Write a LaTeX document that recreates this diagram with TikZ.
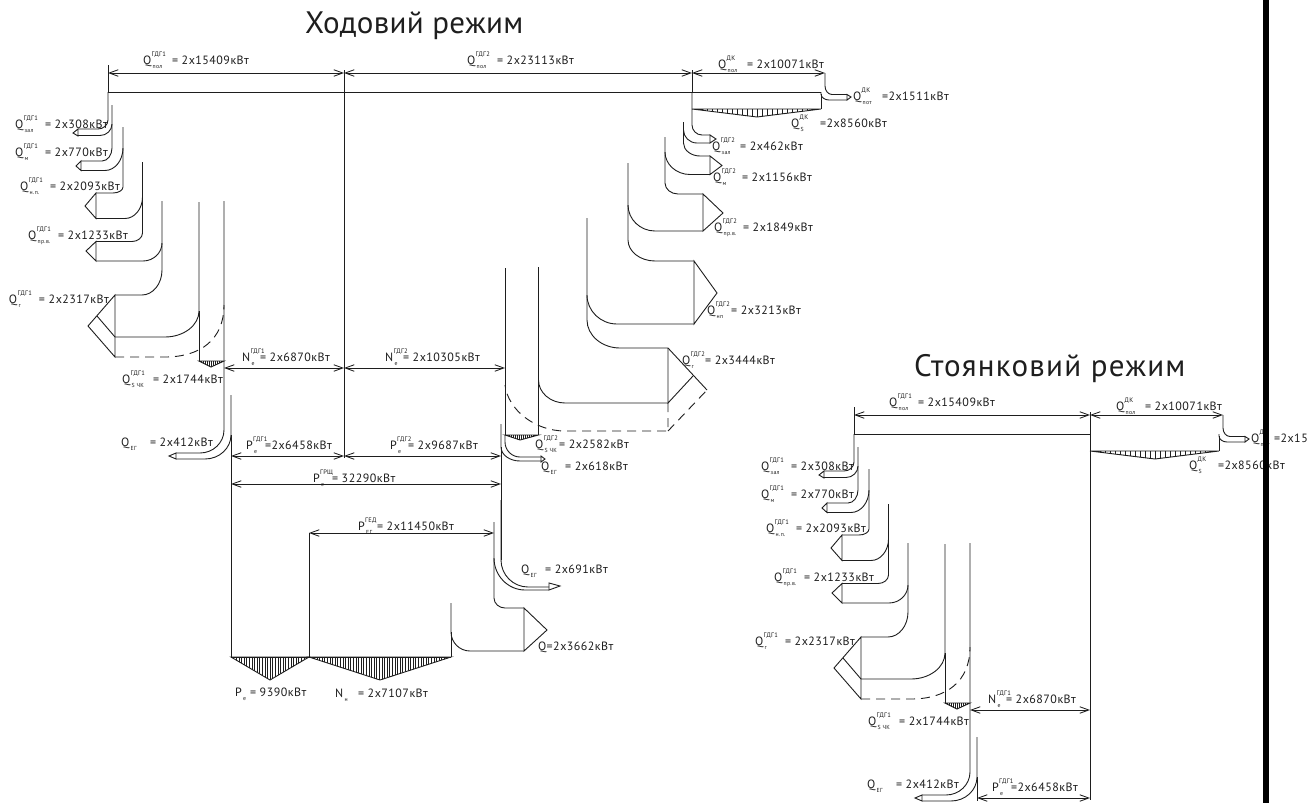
\documentclass[tikz,border=0pt]{standalone}
\usepackage{fontspec}
\setmainfont{PT Sans}
\newfontfamily\labfont[LetterSpace=4]{PT Sans}
\newfontfamily\titfonta[LetterSpace=1]{PT Sans}
\newfontfamily\titfontb[LetterSpace=4]{PT Sans}
\usetikzlibrary{arrows.meta}
\definecolor{ink}{HTML}{1E1E1E}
\tikzset{
  x=1pt,y=-1pt,
  lbl/.style={inner sep=0pt,outer sep=0pt,anchor=base west,text=ink,font=\labfont\fontsize{12}{13}\selectfont},
  titla/.style={inner sep=0pt,outer sep=0pt,anchor=base west,text=ink,font=\titfonta\fontsize{31}{34}\selectfont},
  titlb/.style={inner sep=0pt,outer sep=0pt,anchor=base west,text=ink,font=\titfontb\fontsize{31}{34}\selectfont},
  ln/.style={draw=ink,line width=0.9pt,line join=miter},
  dsh/.style={ln,dash pattern=on 9pt off 6pt},
  dimen/.style={draw=ink,line width=0.85pt,{Straight Barb[length=9pt,width=6.5pt]}-{Straight Barb[length=9pt,width=6.5pt]}},
  hat/.style={draw=ink,line width=0.5pt}
}
% x, ytop, ystart of bend, x end of bend, y of run, x final
\newcommand\flow[6]{\draw[ln] (#1,#2) -- (#1,#3) .. controls (#1,{#3+.55*(#5-#3)}) and ({#4+.55*(#1-#4)},#5) .. (#4,#5) -- (#6,#5);}
\newcommand\dimline[4]{\coordinate (#1a) at (#2,#4);\coordinate (#1b) at (#3,#4);\draw[dimen] (#1a) -- (#1b);}
% x1 xtip x2 y ytip step
\newcommand\hatchtri[6]{%
  \begin{scope}\clip (#1,#4) -- (#2,#5) -- (#3,#4) -- cycle;
  \pgfmathsetmacro{\myhb}{#1+#6}
  \foreach \hh in {#1,\myhb,...,#3} \draw[hat] (\hh,#4) -- (\hh,#5);
  \end{scope}
  \draw[ln] (#1,#4) -- (#2,#5) -- (#3,#4) -- cycle;}
\newcommand\supsub[2]{\rlap{\raisebox{8pt}{\kern0.5pt\fontsize{6.5}{6}\selectfont #1}}\rlap{\raisebox{-4pt}{\kern1.5pt\fontsize{5.8}{6}\selectfont #2}}}
% name x y letter sup sub gap text
\newcommand\lab[8]{\node[lbl] (#1) at (#2,#3) {\makebox[#7pt][l]{#4\supsub{#5}{#6}}#8};}

\newcommand\leftpart{%
  \draw[ln] (108,65) -- (108,92) -- (344,92);
  \draw[ln] (344,70) -- (344,458);
  \dimline{dq}{108}{344}{73}
  \dimline{dn}{224}{344}{368}
  \dimline{dp}{231}{344}{456}
  % zal
  \flow{108}{92}{120}{98}{129}{78}
  \flow{112}{105}{124}{100}{135.5}{78}
  \draw[ln] (78,129) -- (73,133) -- (78,136) -- cycle;
  % m
  \flow{112}{124}{148}{102}{161}{81}
  \flow{123}{127}{148}{105}{170.5}{81}
  \draw[ln] (81,161) -- (76,166) -- (81,170.5) -- cycle;
  % np
  \flow{123}{148}{187}{113}{193}{96}
  \flow{142.5}{162}{197}{125}{218.5}{96}
  \draw[ln] (96,193) -- (85,206) -- (96,218.5) -- cycle;
  % prv
  \flow{142.5}{197}{233}{132}{241.5}{96}
  \flow{162}{201}{243}{143}{261}{96}
  \draw[ln] (96,241.5) -- (86,251) -- (96,261) -- cycle;
  % g
  \flow{162}{243}{270}{142}{295}{115}
  \flow{199}{202}{311}{165}{337}{115}
  \draw[ln] (199,311) -- (199,361);
  \draw[ln] (115,295) -- (115,357) -- (88,326) -- cycle;
  \draw[ln] (97,316) -- (115,337);
  \draw[dsh] (115,357) -- (165,357) .. controls (200,357) and (224,340) .. (224,305);
  % chk
  \hatchtri{199}{211}{224}{361}{367}{2}
  % eg
  \flow{224}{201}{430}{200}{453}{176}
  \flow{231}{395}{435}{205}{459}{176}
  \draw[ln] (231,435) -- (231,459);
  \draw[ln] (176,453) -- (169,456) -- (176,459) -- cycle;
  % labels
  \lab{lqpol}{143}{64}{Q}{ГДГ1}{пол}{29}{= 2x15409кВт}
  \lab{lqzal}{15}{128}{Q}{ГДГ1}{зал}{30}{= 2x308кВт}
  \lab{lqm}{15}{156}{Q}{ГДГ1}{м}{30}{= 2x770кВт}
  \lab{lqnp}{20}{190}{Q}{ГДГ1}{н.п.}{30}{= 2x2093кВт}
  \lab{lqpr}{28}{239}{Q}{ГДГ1}{пр.в.}{30}{= 2x1233кВт}
  \lab{lqg}{9}{303}{Q}{ГДГ1}{г}{30}{= 2x2317кВт}
  \lab{lqs}{122}{383}{Q}{ГДГ1}{S ЧК}{31}{= 2x1744кВт}
  \lab{lne}{242}{361}{N}{ГДГ1}{е}{18}{= 2x6870кВт}
  \lab{lqeg}{121}{446}{Q}{}{ЕГ}{29}{= 2x412кВт}
  \lab{lpe}{246}{449}{P}{ГДГ1}{е}{19}{=2x6458кВт}
}
\newcommand\dkpart[2]{%
  \dimline{dk}{692}{825}{73}
  \flow{825}{73}{86}{832}{94.5}{847}
  \flow{821}{92}{94}{829}{100}{847}
  \draw[ln] (821,94) -- (821,109);
  \draw[ln] (847,94.5) -- (851,97) -- (847,100) -- cycle;
  \hatchtri{692}{757}{821}{109}{117}{5}
  \lab{ldkpol}{718}{68}{Q}{ДК}{пол}{29}{= 2x10071кВт}
  \lab{ldkpot}{853}{100}{Q}{ДК}{пот}{#2}{#1}
  \lab{ldks}{791}{127}{Q}{ДК}{S}{29}{=2x8560кВт}
}

\begin{document}
\begin{tikzpicture}
\useasboundingbox (0,0) rectangle (1308,803);
\fill[white] (0,0) rectangle (1308,803);
\node[titla] (t1) at (305,33) {Ходовий режим};
\node[titlb] (t2) at (914,376) {Стоянковий режим};

% running mode
\leftpart
\dkpart{=2x1511кВт}{29}
\draw[ln] (344,92) -- (821,92);
\draw[ln] (231,459) -- (231,657) -- (451,657);
\draw[ln] (692,70) -- (692,92);
\dimline{dq2}{344}{692}{73}
\dimline{dn2}{344}{505}{368}
\dimline{dp2}{344}{501}{456}
\dimline{dpg}{231}{501}{484}
\dimline{dge}{309}{494}{533}
\draw[ln] (309,533) -- (309,657);
% DG2 branches
\flow{692}{92}{125}{702}{135}{710}
\flow{683.5}{122}{130}{697}{143}{710}
\draw[ln] (710,135) -- (716,139) -- (710,143) -- cycle;
\flow{683.5}{130}{143}{700}{156}{710}
\flow{665}{137}{152}{690}{174.5}{710}
\draw[ln] (710,156) -- (722,165.5) -- (710,174.5) -- cycle;
\flow{665}{152}{183}{678}{194}{703}
\flow{628}{163}{205}{655}{231}{703}
\draw[ln] (703,194) -- (723,213) -- (703,231) -- cycle;
\flow{628}{205}{240}{655}{261}{694}
\flow{587}{218}{295}{617}{324}{694}
\draw[ln] (694,261) -- (717,293) -- (694,324) -- cycle;
\flow{587}{295}{320}{620}{348}{668}
\flow{538.5}{267}{380}{565}{403}{668}
\draw[ln] (538.5,380) -- (538.5,435);
\draw[ln] (668,348) -- (668,403) -- (693,376);
\draw[ln] (668,348) -- (707,390);
\draw[dsh] (668,403) -- (668,431) -- (565,431) .. controls (535,431) and (508,410) .. (505,385);
\draw[dsh] (668,431) -- (707,390);
\draw[ln] (505,268) -- (505,435);
\hatchtri{505}{520}{538.5}{435}{440}{2}
% EG of DG2
\flow{505}{435}{442}{520}{457}{541}
\flow{501}{424}{447}{520}{461}{541}
\draw[ln] (541,456) -- (545,459) -- (541,462) -- cycle;
\draw[ln] (501,447) -- (501,560);
% lower EG + Q
\flow{501}{500}{560}{528}{587}{549}
\flow{494}{522}{558}{525}{590}{549}
\draw[ln] (549,583) -- (560,586) -- (549,590) -- cycle;
\flow{494}{558}{598}{505}{608}{524}
\flow{451}{603}{632}{470}{651}{524}
\draw[ln] (524,608) -- (547,630) -- (524,651) -- cycle;
\draw[ln] (451,632) -- (451,657);
\hatchtri{231}{270}{309}{657}{680}{2.6}
\hatchtri{309}{380}{451}{657}{680}{2.6}
% running labels
\lab{lq2pol}{467}{64}{Q}{ГДГ2}{пол}{30}{= 2x23113кВт}
\lab{lq2zal}{712}{150}{Q}{ГДГ2}{зал}{28}{= 2x462кВт}
\lab{lq2m}{713}{181}{Q}{ГДГ2}{м}{29}{= 2x1156кВт}
\lab{lq2pr}{714}{231}{Q}{ГДГ2}{пр.в.}{29}{= 2x1849кВт}
\lab{lq2np}{707}{314}{Q}{ГДГ2}{нп}{24}{= 2x3213кВт}
\lab{lq2g}{682}{364}{Q}{ГДГ2}{г}{23}{= 2x3444кВт}
\lab{lq2s}{535}{448}{Q}{ГДГ2}{S ЧК}{24}{= 2x2582кВт}
\lab{lq2eg}{541}{470}{Q}{}{ЕГ}{24}{= 2x618кВт}
\lab{ln2}{385}{361}{N}{ГДГ2}{е}{18}{= 2x10305кВт}
\lab{lp2}{390}{449}{P}{ГДГ2}{е}{18}{= 2x9687кВт}
\lab{lpg}{313}{482}{P}{ГРЩ}{е}{19}{= 32290кВт}
\lab{lpge}{358}{530}{P}{ГЕД}{ЕГ}{19}{= 2x11450кВт}
\lab{lq3eg}{521}{573}{Q}{}{ЕГ}{24}{= 2x691кВт}
\node[lbl] (lq3) at (538,650) {Q=2x3662кВт};
\lab{lpe9}{235}{696}{P}{}{е}{15}{= 9390кВт}
\lab{lnn}{335}{697}{N}{}{н}{23}{= 2x7107кВт}

% parking mode
\begin{scope}[shift={(746,342)},name prefix=p-]
\leftpart
\end{scope}
\begin{scope}[shift={(398,342)},name prefix=r-]
\dkpart{=2x15}{23}
\end{scope}
\fill[black] (1263,0) rectangle (1269,803);
\end{tikzpicture}
\end{document}
